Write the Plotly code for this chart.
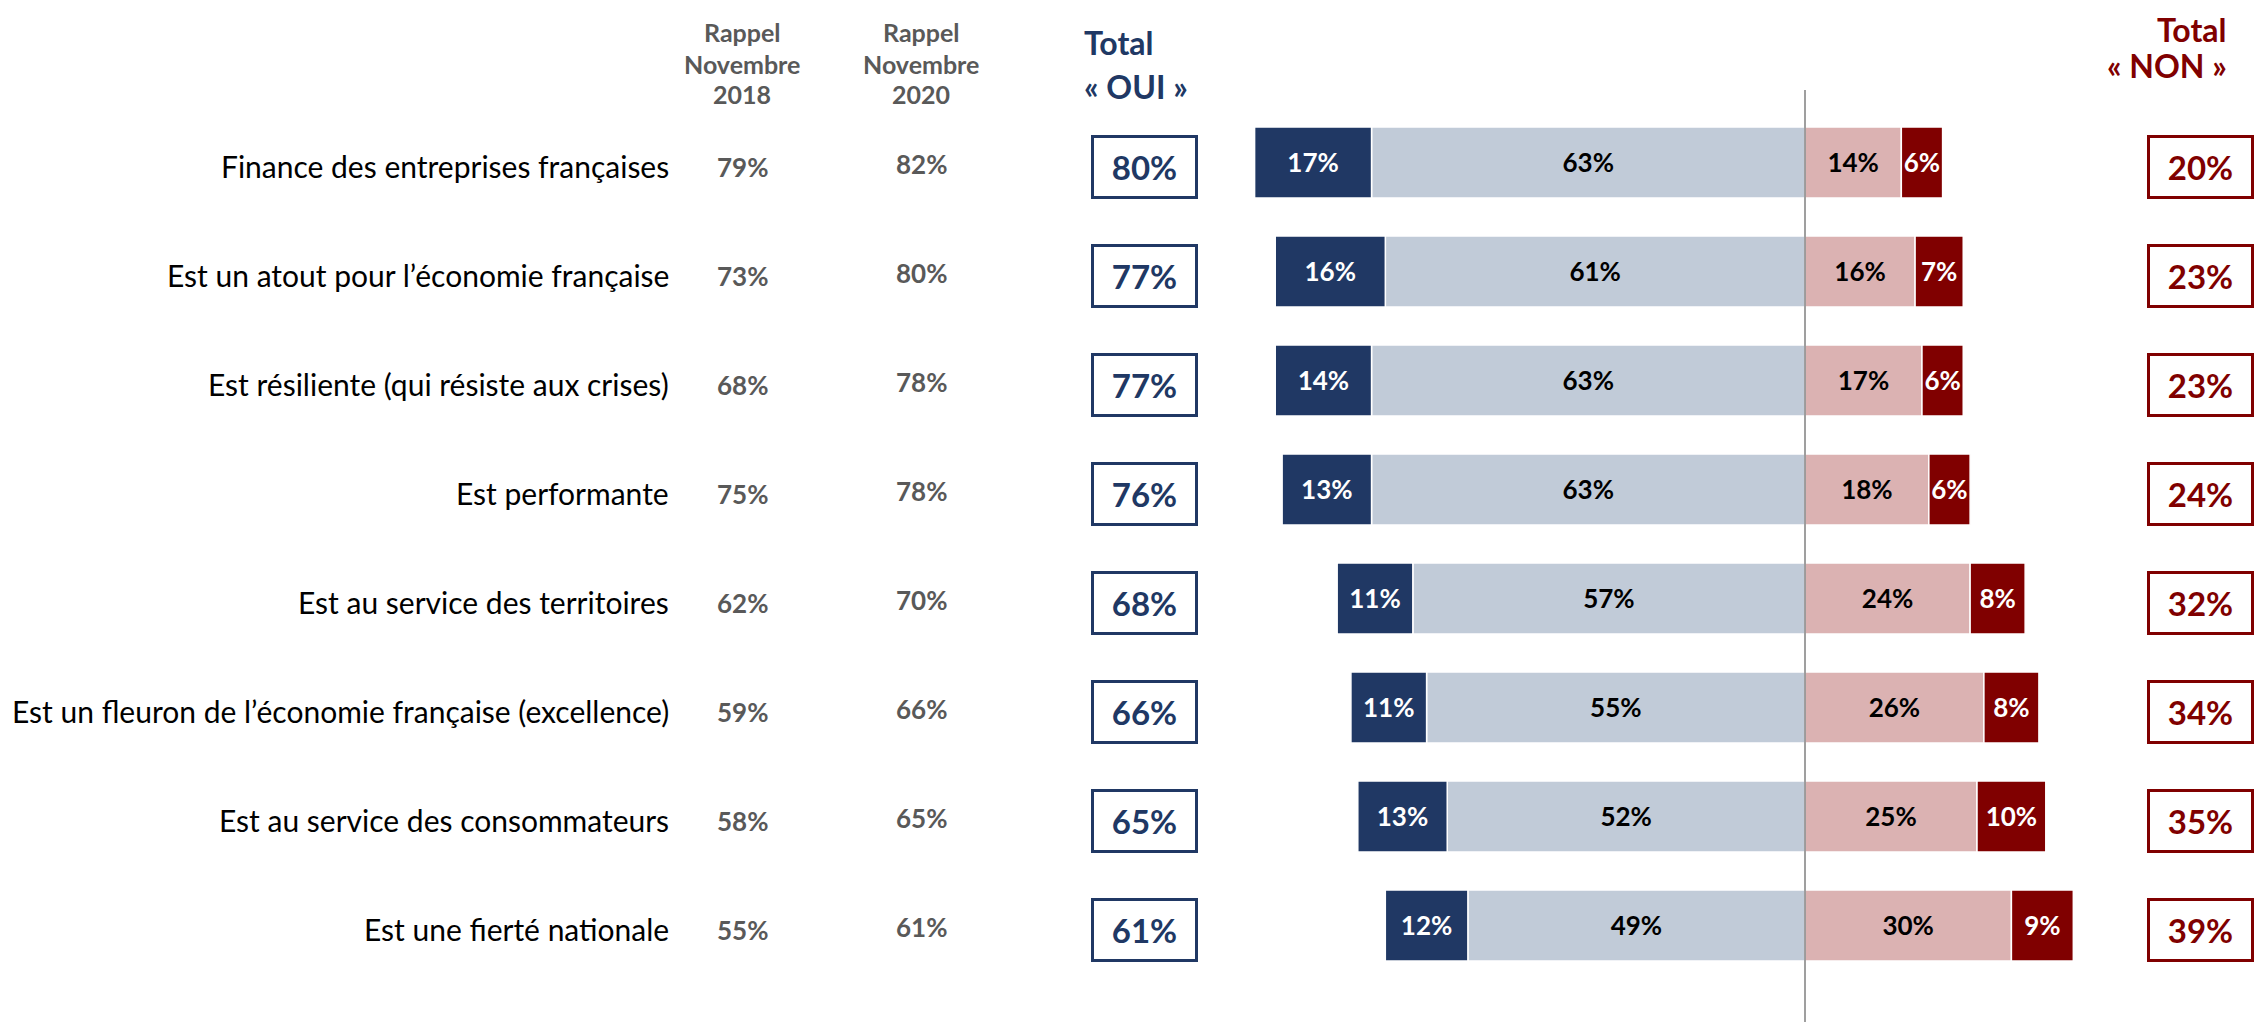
import plotly.graph_objects as go

# --- data ---
items = [
    "Finance des entreprises françaises",
    "Est un atout pour l’économie française",
    "Est résiliente (qui résiste aux crises)",
    "Est performante",
    "Est au service des territoires",
    "Est un fleuron de l’économie française (excellence)",
    "Est au service des consommateurs",
    "Est une fierté nationale",
]
rappel_2018 = [79, 73, 68, 75, 62, 59, 58, 55]
rappel_2020 = [82, 80, 78, 78, 70, 66, 65, 61]
oui_tout_a_fait = [17, 16, 14, 13, 11, 11, 13, 12]
oui_plutot = [63, 61, 63, 63, 57, 55, 52, 49]
non_plutot_pas = [14, 16, 17, 18, 24, 26, 25, 30]
non_pas_du_tout = [6, 7, 6, 6, 8, 8, 10, 9]
total_oui = [80, 77, 77, 76, 68, 66, 65, 61]
total_non = [20, 23, 23, 24, 32, 34, 35, 39]

NAVY = "#203864"
LIGHT = "#C1CBD8"
PINK = "#DBB2B2"
RED = "#800000"
GREY = "#595959"
FONT = "Lato"

# the page body has an 8px margin, so the figure is a bit smaller than the window
OFF = 8
W, H = 2264 - 2 * OFF, 1030 - 2 * OFF
ROW0 = 162.5 - OFF      # first row centre, figure pixels
ROW_STEP = 109.0        # pixels between rows
ZERO = 1805 - OFF       # x of the 0% line, figure pixels
PER_PCT = 6.88          # pixels per percentage point
rows = list(range(len(items)))


def fx(x):
    # page pixel -> paper fraction
    return (x - OFF) / W


def fy(y):
    # page pixel -> paper fraction (from bottom)
    return 1 - (y - OFF) / H


fig = go.Figure()

bar_specs = [
    ([-v for v in oui_plutot], LIGHT),
    ([-v for v in oui_tout_a_fait], NAVY),
    (non_plutot_pas, PINK),
    (non_pas_du_tout, RED),
]
for vals, col in bar_specs:
    fig.add_trace(go.Bar(
        x=vals, y=rows, orientation="h", width=0.65,
        marker=dict(color=col, line=dict(color="white", width=1.5)),
        hoverinfo="skip", showlegend=False,
    ))

# segment labels, centred on each segment
txt_rows = [r + 0.025 for r in rows]
label_specs = [
    ([-v / 2 for v in oui_plutot], oui_plutot, "black"),
    ([-(p + t / 2) for p, t in zip(oui_plutot, oui_tout_a_fait)], oui_tout_a_fait, "white"),
    ([v / 2 for v in non_plutot_pas], non_plutot_pas, "black"),
    ([p + n / 2 for p, n in zip(non_plutot_pas, non_pas_du_tout)], non_pas_du_tout, "white"),
]
for xs, vals, col in label_specs:
    fig.add_trace(go.Scatter(
        x=xs, y=txt_rows, mode="text", text=[f"<b>{v}%</b>" for v in vals],
        textfont=dict(family=FONT, size=26, color=col),
        hoverinfo="skip", showlegend=False,
    ))

ann = []
for i, r in enumerate(rows):
    ann.append(dict(x=fx(671), y=r, xref="paper", yref="y", xanchor="right",
                    yshift=-3, text=items[i], showarrow=False,
                    font=dict(family=FONT, size=30, color="black")))
    ann.append(dict(x=fx(742), y=r, xref="paper", yref="y", xanchor="center",
                    yshift=-4, text=f"<b>{rappel_2018[i]}%</b>", showarrow=False,
                    font=dict(family=FONT, size=26, color=GREY)))
    ann.append(dict(x=fx(921), y=r, xref="paper", yref="y", xanchor="center",
                    yshift=-1, text=f"<b>{rappel_2020[i]}%</b>", showarrow=False,
                    font=dict(family=FONT, size=26, color=GREY)))
    ann.append(dict(x=fx(1144), y=r, xref="paper", yref="y", xanchor="center",
                    yshift=-4, text=f"<b>{total_oui[i]}%</b>", showarrow=False,
                    width=99, height=56, borderpad=1, borderwidth=3,
                    bordercolor=NAVY, bgcolor="white",
                    font=dict(family=FONT, size=33, color=NAVY)))
    ann.append(dict(x=fx(2200), y=r, xref="paper", yref="y", xanchor="center",
                    yshift=-4, text=f"<b>{total_non[i]}%</b>", showarrow=False,
                    width=99, height=56, borderpad=1, borderwidth=3,
                    bordercolor=RED, bgcolor="white",
                    font=dict(family=FONT, size=33, color=RED)))

# column headers, one annotation per line
header_2018 = ["Rappel", "Novembre", "2018"]
header_2020 = ["Rappel", "Novembre", "2020"]
header_oui = ["Total", "« OUI »"]
header_non = ["Total", "« NON »"]

for line, y in zip(header_2018, [32, 64, 94]):
    ann.append(dict(x=fx(742), y=fy(y), xref="paper", yref="paper",
                    xanchor="center", yanchor="middle", showarrow=False,
                    text=f"<b>{line}</b>", font=dict(family=FONT, size=25, color=GREY)))
for line, y in zip(header_2020, [32, 64, 94]):
    ann.append(dict(x=fx(921), y=fy(y), xref="paper", yref="paper",
                    xanchor="center", yanchor="middle", showarrow=False,
                    text=f"<b>{line}</b>", font=dict(family=FONT, size=25, color=GREY)))
for line, y in zip(header_oui, [43, 87]):
    ann.append(dict(x=fx(1082), y=fy(y), xref="paper", yref="paper",
                    xanchor="left", yanchor="middle", showarrow=False,
                    text=f"<b>{line}</b>", font=dict(family=FONT, size=32, color=NAVY)))
ann.append(dict(x=fx(2229), y=1, xref="paper", yref="paper",
                xanchor="right", yanchor="top", showarrow=False,
                text=f"<b>{header_non[0]}</b>", font=dict(family=FONT, size=32, color=RED)))
ann.append(dict(x=fx(2229), y=fy(66), xref="paper", yref="paper",
                xanchor="right", yanchor="middle", showarrow=False,
                text=f"<b>{header_non[1]}</b>", font=dict(family=FONT, size=32, color=RED)))

fig.add_shape(type="line", x0=0, x1=0, xref="x", y0=0,
              y1=fy(90), yref="paper",
              line=dict(color="#7F7F7F", width=1.5))

fig.update_layout(
    width=W, height=H, barmode="relative", bargap=0.35,
    margin=dict(l=0, r=0, t=0, b=0),
    paper_bgcolor="white", plot_bgcolor="white",
    xaxis=dict(range=[-ZERO / PER_PCT, (W - ZERO) / PER_PCT], visible=False,
               fixedrange=True),
    yaxis=dict(range=[(H - ROW0) / ROW_STEP, -ROW0 / ROW_STEP], visible=False,
               fixedrange=True),
    annotations=ann,
)

fig.write_html("out.html")
